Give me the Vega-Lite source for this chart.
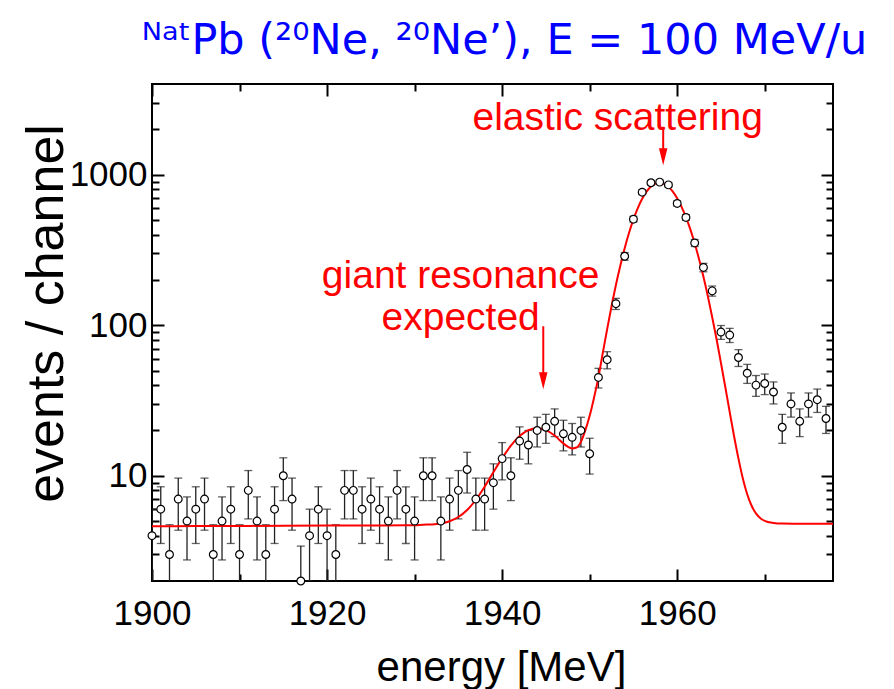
{
  "$schema": "https://vega.github.io/schema/vega-lite/v6.json",
  "width": 681,
  "height": 497,
  "autosize": {"type": "none"},
  "padding": {"left": 152, "top": 84, "right": 61, "bottom": 108},
  "background": "white",
  "title": {
    "text": "ᴺᵃᵗPb (²⁰Ne, ²⁰Ne’), E = 100 MeV/u",
    "font": "DejaVu Sans",
    "fontSize": 43,
    "fontWeight": "normal",
    "color": "#0000ff",
    "anchor": "middle",
    "frame": "group",
    "baseline": "alphabetic",
    "offset": -14,
    "dx": 12
  },
  "config": {
    "view": {"stroke": "black", "strokeWidth": 2},
    "axis": {
      "domain": false,
      "grid": false,
      "labelFont": "Liberation Sans",
      "labelFontSize": 35,
      "labelColor": "black",
      "tickColor": "black",
      "tickWidth": 2,
      "titleFont": "Liberation Sans",
      "titleFontSize": 42,
      "titleFontWeight": "normal",
      "titleColor": "black",
      "labelFlush": false,
      "labelOverlap": false
    }
  },
  "datasets": {
    "pts": [
      {"E": 1900, "n": 4, "lo": 2, "hi": 6},
      {"E": 1901, "n": 6, "lo": 3.55, "hi": 8.45},
      {"E": 1902, "n": 3, "lo": 1.27, "hi": 4.73},
      {"E": 1903, "n": 7, "lo": 4.35, "hi": 9.65},
      {"E": 1904, "n": 5, "lo": 2.76, "hi": 7.24},
      {"E": 1905, "n": 6, "lo": 3.55, "hi": 8.45},
      {"E": 1906, "n": 7, "lo": 4.35, "hi": 9.65},
      {"E": 1907, "n": 3, "lo": 1.27, "hi": 4.73},
      {"E": 1908, "n": 5, "lo": 2.76, "hi": 7.24},
      {"E": 1909, "n": 6, "lo": 3.55, "hi": 8.45},
      {"E": 1910, "n": 3, "lo": 1.27, "hi": 4.73},
      {"E": 1911, "n": 8, "lo": 5.17, "hi": 10.83},
      {"E": 1912, "n": 5, "lo": 2.76, "hi": 7.24},
      {"E": 1913, "n": 3, "lo": 1.27, "hi": 4.73},
      {"E": 1914, "n": 6, "lo": 3.55, "hi": 8.45},
      {"E": 1915, "n": 10, "lo": 6.84, "hi": 13.16},
      {"E": 1916, "n": 7, "lo": 4.35, "hi": 9.65},
      {"E": 1917, "n": 2, "lo": 0.59, "hi": 3.41},
      {"E": 1918, "n": 4, "lo": 2, "hi": 6},
      {"E": 1919, "n": 6, "lo": 3.55, "hi": 8.45},
      {"E": 1920, "n": 4, "lo": 2, "hi": 6},
      {"E": 1921, "n": 3, "lo": 1.27, "hi": 4.73},
      {"E": 1922, "n": 8, "lo": 5.17, "hi": 10.83},
      {"E": 1923, "n": 8, "lo": 5.17, "hi": 10.83},
      {"E": 1924, "n": 6, "lo": 3.55, "hi": 8.45},
      {"E": 1925, "n": 7, "lo": 4.35, "hi": 9.65},
      {"E": 1926, "n": 6, "lo": 3.55, "hi": 8.45},
      {"E": 1927, "n": 5, "lo": 2.76, "hi": 7.24},
      {"E": 1928, "n": 8, "lo": 5.17, "hi": 10.83},
      {"E": 1929, "n": 6, "lo": 3.55, "hi": 8.45},
      {"E": 1930, "n": 5, "lo": 2.76, "hi": 7.24},
      {"E": 1931, "n": 10, "lo": 6.84, "hi": 13.16},
      {"E": 1932, "n": 10, "lo": 6.84, "hi": 13.16},
      {"E": 1933, "n": 5, "lo": 2.76, "hi": 7.24},
      {"E": 1934, "n": 7, "lo": 4.35, "hi": 9.65},
      {"E": 1935, "n": 8, "lo": 5.17, "hi": 10.83},
      {"E": 1936, "n": 11, "lo": 7.68, "hi": 14.32},
      {"E": 1937, "n": 7, "lo": 4.35, "hi": 9.65},
      {"E": 1938, "n": 7, "lo": 4.35, "hi": 9.65},
      {"E": 1939, "n": 9, "lo": 6, "hi": 12},
      {"E": 1940, "n": 13, "lo": 9.39, "hi": 16.61},
      {"E": 1941, "n": 10, "lo": 6.84, "hi": 13.16},
      {"E": 1942, "n": 17, "lo": 12.88, "hi": 21.12},
      {"E": 1943, "n": 16, "lo": 12, "hi": 20},
      {"E": 1944, "n": 20, "lo": 15.53, "hi": 24.47},
      {"E": 1945, "n": 21, "lo": 16.42, "hi": 25.58},
      {"E": 1946, "n": 23, "lo": 18.2, "hi": 27.8},
      {"E": 1947, "n": 19, "lo": 14.64, "hi": 23.36},
      {"E": 1948, "n": 18, "lo": 13.76, "hi": 22.24},
      {"E": 1949, "n": 20, "lo": 15.53, "hi": 24.47},
      {"E": 1950, "n": 14, "lo": 10.26, "hi": 17.74},
      {"E": 1951, "n": 45, "lo": 38.29, "hi": 51.71},
      {"E": 1952, "n": 59, "lo": 51.32, "hi": 66.68},
      {"E": 1953, "n": 139, "lo": 127.2, "hi": 150.8},
      {"E": 1954, "n": 287, "lo": 270.1, "hi": 303.9},
      {"E": 1955, "n": 506, "lo": 483.5, "hi": 528.5},
      {"E": 1956, "n": 765, "lo": 737.3, "hi": 792.7},
      {"E": 1957, "n": 883, "lo": 853.3, "hi": 912.7},
      {"E": 1958, "n": 892, "lo": 862.1, "hi": 921.9},
      {"E": 1959, "n": 855, "lo": 825.8, "hi": 884.2},
      {"E": 1960, "n": 644, "lo": 618.6, "hi": 669.4},
      {"E": 1961, "n": 520, "lo": 497.2, "hi": 542.8},
      {"E": 1962, "n": 352, "lo": 333.2, "hi": 370.8},
      {"E": 1963, "n": 242, "lo": 226.4, "hi": 257.6},
      {"E": 1964, "n": 169, "lo": 156, "hi": 182},
      {"E": 1965, "n": 90, "lo": 80.51, "hi": 99.49},
      {"E": 1966, "n": 86, "lo": 76.73, "hi": 95.27},
      {"E": 1967, "n": 61, "lo": 53.19, "hi": 68.81},
      {"E": 1968, "n": 48, "lo": 41.07, "hi": 54.93},
      {"E": 1969, "n": 40, "lo": 33.68, "hi": 46.32},
      {"E": 1970, "n": 41, "lo": 34.6, "hi": 47.4},
      {"E": 1971, "n": 36, "lo": 30, "hi": 42},
      {"E": 1972, "n": 21, "lo": 16.42, "hi": 25.58},
      {"E": 1973, "n": 30, "lo": 24.52, "hi": 35.48},
      {"E": 1974, "n": 23, "lo": 18.2, "hi": 27.8},
      {"E": 1975, "n": 30, "lo": 24.52, "hi": 35.48},
      {"E": 1976, "n": 32, "lo": 26.34, "hi": 37.66},
      {"E": 1977, "n": 24, "lo": 19.1, "hi": 28.9}
    ],
    "curve": [
      {"E": 1900, "n": 4.62}, {"E": 1905, "n": 4.63}, {"E": 1910, "n": 4.64},
      {"E": 1915, "n": 4.66}, {"E": 1920, "n": 4.67}, {"E": 1925, "n": 4.68},
      {"E": 1929, "n": 4.69}, {"E": 1930, "n": 4.7}, {"E": 1931, "n": 4.73},
      {"E": 1932, "n": 4.75}, {"E": 1933, "n": 4.82}, {"E": 1934, "n": 4.99},
      {"E": 1935, "n": 5.32}, {"E": 1936, "n": 5.92}, {"E": 1937, "n": 6.93},
      {"E": 1938, "n": 8.46}, {"E": 1939, "n": 10.56}, {"E": 1940, "n": 13.1},
      {"E": 1941, "n": 15.85}, {"E": 1942, "n": 18.35}, {"E": 1943, "n": 20.1},
      {"E": 1944, "n": 20.7}, {"E": 1945, "n": 20.1}, {"E": 1946, "n": 18.5},
      {"E": 1947, "n": 16.4}, {"E": 1947.5, "n": 15.6}, {"E": 1948, "n": 15.2},
      {"E": 1948.5, "n": 15.4}, {"E": 1949, "n": 16.8}, {"E": 1949.5, "n": 20},
      {"E": 1950, "n": 25}, {"E": 1950.5, "n": 33}, {"E": 1951, "n": 45},
      {"E": 1951.5, "n": 65.5}, {"E": 1952, "n": 94.2}, {"E": 1952.5, "n": 133.5},
      {"E": 1953, "n": 185}, {"E": 1953.5, "n": 248}, {"E": 1954, "n": 324.5},
      {"E": 1954.5, "n": 411}, {"E": 1955, "n": 505}, {"E": 1955.5, "n": 600},
      {"E": 1956, "n": 692}, {"E": 1956.5, "n": 772}, {"E": 1957, "n": 835},
      {"E": 1957.5, "n": 873}, {"E": 1957.95, "n": 885}, {"E": 1958.5, "n": 870},
      {"E": 1959, "n": 831}, {"E": 1959.5, "n": 772}, {"E": 1960, "n": 697},
      {"E": 1960.5, "n": 611}, {"E": 1961, "n": 522}, {"E": 1961.5, "n": 433},
      {"E": 1962, "n": 350}, {"E": 1962.5, "n": 274}, {"E": 1963, "n": 210},
      {"E": 1963.5, "n": 156}, {"E": 1964, "n": 113}, {"E": 1964.5, "n": 80.6},
      {"E": 1965, "n": 56.1}, {"E": 1965.5, "n": 38.7}, {"E": 1966, "n": 26.5},
      {"E": 1966.5, "n": 18.3}, {"E": 1967, "n": 13}, {"E": 1967.5, "n": 9.6},
      {"E": 1968, "n": 7.54}, {"E": 1968.5, "n": 6.32}, {"E": 1969, "n": 5.62},
      {"E": 1969.5, "n": 5.23}, {"E": 1970, "n": 5.02}, {"E": 1971, "n": 4.86},
      {"E": 1972, "n": 4.81}, {"E": 1974, "n": 4.8}, {"E": 1977.8, "n": 4.8}
    ],
    "labels": [
      {"E": 1935.26, "n": 176, "label": "giant resonance"},
      {"E": 1935.26, "n": 92.6, "label": "expected"},
      {"E": 1953.2, "n": 1977, "label": "elastic scattering"}
    ],
    "arrows": [
      {"E": 1944.7, "top": 98.4, "mid": 45, "tip": 37.6},
      {"E": 1958.4, "top": 2080, "mid": 1400, "tip": 1156}
    ]
  },
  "resolve": {
    "scale": {"x": "shared", "y": "shared"},
    "axis": {"x": "independent", "y": "independent"}
  },
  "layer": [
    {
      "data": {"name": "pts"},
      "mark": {"type": "rule", "color": "#222222", "strokeWidth": 1.3, "clip": true},
      "encoding": {
        "x": {
          "field": "E", "type": "quantitative",
          "scale": {"domain": [1900, 1977.8], "nice": false, "zero": false},
          "axis": {
            "orient": "bottom", "values": [1900, 1920, 1940, 1960], "format": "d",
            "offset": -12, "tickSize": 12, "labelPadding": 43, "labelBaseline": "alphabetic",
            "title": "energy [MeV]", "titleBaseline": "alphabetic", "titleX": 349, "titleY": 111
          }
        },
        "y": {
          "field": "lo", "type": "quantitative",
          "scale": {"type": "log", "domain": [2, 4000], "nice": false},
          "axis": {
            "orient": "left", "values": [10, 100, 1000], "format": "d",
            "offset": -12, "tickSize": 12, "labelPadding": 5, "labelBaseline": "middle",
            "title": "events / channel", "titleFontSize": 52, "titleBaseline": "alphabetic", "titleAngle": 270,
            "titleX": -102, "titleY": 229
          }
        },
        "y2": {"field": "hi"}
      }
    },
    {
      "data": {"name": "pts"},
      "mark": {"type": "tick", "orient": "horizontal", "color": "#222222", "size": 8, "thickness": 1.3, "clip": true},
      "encoding": {
        "x": {
          "field": "E", "type": "quantitative",
          "scale": {"domain": [1900, 1977.8], "nice": false, "zero": false},
          "axis": {"orient": "bottom", "values": [1910, 1930, 1950, 1970], "offset": -7, "tickSize": 7, "labels": false, "title": null}
        },
        "y": {
          "field": "hi", "type": "quantitative",
          "scale": {"type": "log", "domain": [2, 4000], "nice": false},
          "axis": {"orient": "left", "values": [3, 4, 5, 6, 7, 8, 9, 20, 30, 40, 50, 60, 70, 80, 90, 200, 300, 400, 500, 600, 700, 800, 900, 2000, 3000], "offset": -7, "tickSize": 7, "labels": false, "title": null}
        }
      }
    },
    {
      "data": {"name": "pts"},
      "mark": {"type": "tick", "orient": "horizontal", "color": "#222222", "size": 8, "thickness": 1.3, "clip": true},
      "encoding": {
        "x": {
          "field": "E", "type": "quantitative",
          "scale": {"domain": [1900, 1977.8], "nice": false, "zero": false},
          "axis": {"orient": "top", "values": [1900, 1920, 1940, 1960], "offset": -12, "tickSize": 12, "labels": false, "title": null}
        },
        "y": {
          "field": "lo", "type": "quantitative",
          "scale": {"type": "log", "domain": [2, 4000], "nice": false},
          "axis": {"orient": "right", "values": [10, 100, 1000], "offset": -12, "tickSize": 12, "labels": false, "title": null}
        }
      }
    },
    {
      "data": {"name": "curve"},
      "mark": {"type": "line", "color": "#ff0000", "strokeWidth": 2, "interpolate": "monotone", "clip": true},
      "encoding": {
        "x": {
          "field": "E", "type": "quantitative",
          "scale": {"domain": [1900, 1977.8], "nice": false, "zero": false},
          "axis": {"orient": "top", "values": [1910, 1930, 1950, 1970], "offset": -7, "tickSize": 7, "labels": false, "title": null}
        },
        "y": {
          "field": "n", "type": "quantitative",
          "scale": {"type": "log", "domain": [2, 4000], "nice": false},
          "axis": {"orient": "right", "values": [3, 4, 5, 6, 7, 8, 9, 20, 30, 40, 50, 60, 70, 80, 90, 200, 300, 400, 500, 600, 700, 800, 900, 2000, 3000], "offset": -7, "tickSize": 7, "labels": false, "title": null}
        }
      }
    },
    {
      "data": {"name": "pts"},
      "mark": {"type": "point", "shape": "circle", "filled": true, "fill": "white", "stroke": "black", "strokeWidth": 1.2, "size": 60, "opacity": 1},
      "encoding": {
        "x": {"field": "E", "type": "quantitative", "axis": null},
        "y": {"field": "n", "type": "quantitative", "axis": null}
      }
    },
    {
      "data": {"name": "arrows"},
      "mark": {"type": "rule", "color": "#ff0000", "strokeWidth": 2},
      "encoding": {
        "x": {"field": "E", "type": "quantitative", "axis": null},
        "y": {"field": "top", "type": "quantitative", "axis": null},
        "y2": {"field": "mid"}
      }
    },
    {
      "data": {"name": "arrows"},
      "mark": {"type": "point", "shape": "M-0.5,-2L0.5,-2L0,0Z", "filled": true, "color": "#ff0000", "size": 289, "opacity": 1},
      "encoding": {
        "x": {"field": "E", "type": "quantitative", "axis": null},
        "y": {"field": "tip", "type": "quantitative", "axis": null}
      }
    },
    {
      "data": {"name": "labels"},
      "mark": {"type": "text", "color": "#ff0000", "font": "Liberation Sans", "fontSize": 39, "align": "center", "baseline": "alphabetic"},
      "encoding": {
        "x": {"field": "E", "type": "quantitative", "axis": null},
        "y": {"field": "n", "type": "quantitative", "axis": null},
        "text": {"field": "label"}
      }
    }
  ]
}
